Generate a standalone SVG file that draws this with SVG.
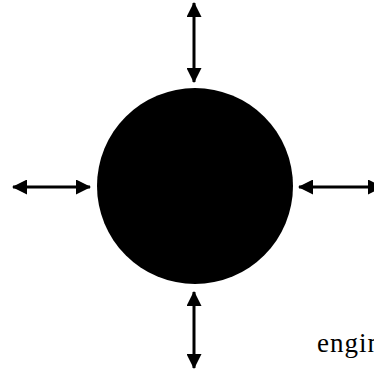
<svg xmlns="http://www.w3.org/2000/svg" width="374" height="374" viewBox="0 0 374 374">
<style>
.arrow{stroke:#000;stroke-width:3;fill:none;marker-start:url(#head);marker-end:url(#head)}
.lbl{font-family:"Liberation Serif","Times New Roman",serif;font-size:27px;letter-spacing:1px;fill:#000}
</style>
<defs>
<marker id="head" viewBox="0 0 15 15" refX="14" refY="7.5" markerWidth="15" markerHeight="15" markerUnits="userSpaceOnUse" orient="auto-start-reverse">
<path d="M0,0 L15,7.5 L0,15 Z" fill="#000"/>
</marker>
</defs>
<rect width="374" height="374" fill="#fff"/>
<g id="core">
<circle cx="195" cy="186" r="98" fill="#000"/>
</g>
<g id="connectors">
<line class="arrow" x1="194" y1="3" x2="194" y2="82"/>
<line class="arrow" x1="194" y1="292" x2="194" y2="368"/>
<line class="arrow" x1="13" y1="187" x2="90" y2="187"/>
<line class="arrow" x1="299" y1="187" x2="382" y2="187"/>
</g>
<text class="lbl" x="317" y="352">engine</text>
</svg>
